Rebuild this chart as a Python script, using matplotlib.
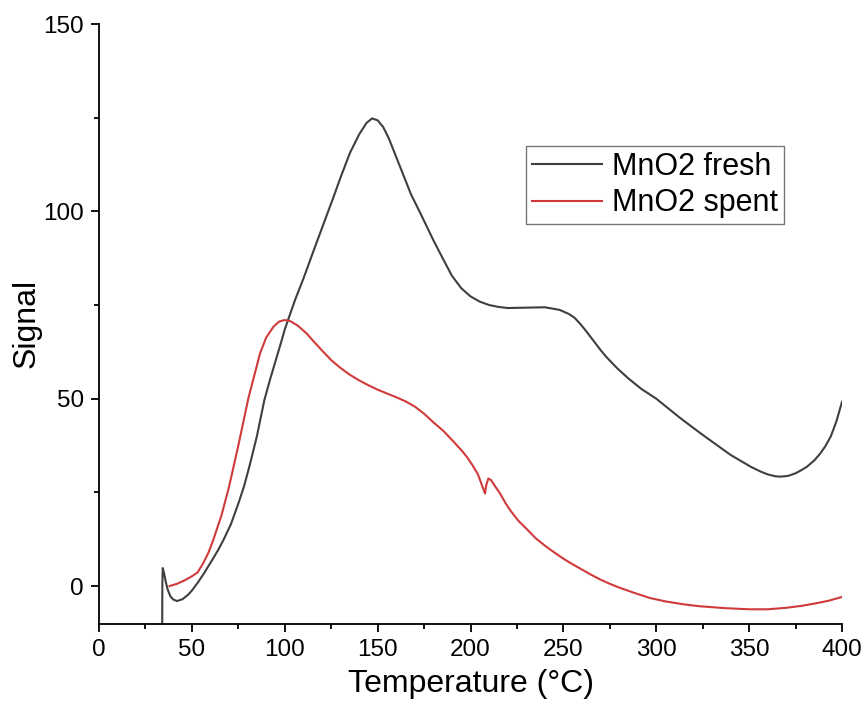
import matplotlib
matplotlib.use("Agg")
import matplotlib.pyplot as plt
from matplotlib.ticker import MultipleLocator

plt.rcParams['font.family'] = ['Liberation Sans', 'DejaVu Sans']

# TPR-style signal traces (temperature in °C, signal in a.u.)
fresh_T = [34.0, 34.1, 34.3, 35.0, 36.0, 37.0, 38.5, 40.0, 42.0, 45.0, 48.0, 50.0,
           53.0, 56.0, 60.0, 64.0, 67.0, 71.0, 75.0, 78.0, 81.0, 85.0, 89.0, 92.0,
           95.0, 98.0, 100.0, 105.5, 110.0, 115.0, 120.0, 126.0, 130.0, 135.0,
           140.0, 144.0, 147.0, 150.0, 153.0, 156.0, 162.0, 168.0, 173.0, 180.0,
           185.0, 190.0, 195.0, 200.0, 205.0, 210.0, 215.0, 220.0, 230.0, 240.0,
           248.0, 253.0, 256.0, 259.0, 262.0, 266.0, 270.0, 273.0, 279.0, 285.0,
           292.0, 300.0, 313.0, 324.0, 340.0, 351.0, 356.0, 360.0, 364.0, 367.0,
           371.0, 375.0, 378.0, 381.0, 385.0, 388.0, 391.0, 394.0, 397.0, 400.0]
fresh_signal = [-12.0, 0.0, 4.8, 3.5, 1.0, -1.0, -2.8, -3.6, -4.0, -3.5, -2.3, -1.2,
                0.8, 3.0, 6.2, 9.5, 12.3, 16.5, 22.0, 26.5, 32.0, 40.0, 49.6, 55.0,
                60.0, 65.0, 68.5, 76.3, 82.0, 88.8, 95.5, 103.5, 109.0, 115.5,
                120.5, 123.6, 124.8, 124.3, 122.5, 119.5, 112.0, 104.5, 99.5, 92.3,
                87.5, 82.8, 79.5, 77.3, 75.9, 75.0, 74.5, 74.2, 74.3, 74.4,
                73.7, 72.6, 71.6, 70.0, 68.2, 65.6, 63.0, 61.2, 58.1, 55.4,
                52.6, 50.0, 44.8, 40.7, 35.0, 31.8, 30.6, 29.8, 29.3, 29.2,
                29.4, 30.1, 30.9, 31.8, 33.5, 35.2, 37.3, 40.0, 44.0, 49.2]

spent_T = [38.0, 42.0, 46.0, 50.0, 53.0, 56.0, 59.0, 61.5, 66.0, 70.0, 75.0, 80.4,
           86.7, 90.0, 93.9, 97.0, 100.0, 103.0, 107.0, 111.8, 115.0, 120.0, 125.0,
           130.0, 135.0, 140.0, 145.0, 150.0, 155.0, 160.0, 165.0, 170.0, 175.0,
           180.0, 185.4, 190.0, 195.0, 198.0, 201.0, 204.0, 207.8, 208.5, 209.6,
           211.0, 213.0, 215.9, 219.0, 222.0, 226.0, 230.3, 235.0, 240.0, 245.0,
           250.0, 255.0, 260.0, 265.0, 270.0, 275.0, 280.0, 288.0, 296.6, 305.0,
           315.0, 323.6, 337.0, 350.0, 360.0, 370.0, 378.0, 386.0, 393.0, 400.0]
spent_signal = [0.0, 0.6, 1.5, 2.6, 3.6, 6.0, 9.0, 12.3, 19.0, 26.5, 37.5, 50.1,
                62.1, 66.3, 69.2, 70.6, 71.0, 70.7, 69.5, 67.4, 65.6, 62.9, 60.3,
                58.2, 56.4, 54.9, 53.6, 52.4, 51.4, 50.4, 49.3, 47.9, 46.0,
                43.7, 41.4, 39.0, 36.3, 34.5, 32.3, 29.8, 24.7, 27.0, 28.7,
                28.3, 26.8, 24.7, 22.0, 19.8, 17.3, 15.2, 12.8, 10.8, 9.0,
                7.3, 5.8, 4.4, 3.0, 1.7, 0.6, -0.4, -1.8, -3.2, -4.1,
                -4.9, -5.4, -5.9, -6.2, -6.2, -5.8, -5.3, -4.6, -3.9, -2.9]

series_labels = ["MnO2 fresh", "MnO2 spent"]

fig = plt.figure(figsize=(8.67, 7.19), dpi=100)
ax = fig.add_axes([0.1142, 0.1328, 0.857, 0.8338])

ax.plot(fresh_T, fresh_signal, color='#3f3f3f', lw=1.5, label=series_labels[0])
ax.plot(spent_T, spent_signal, color='#d03a3a', lw=1.5, label=series_labels[1])

ax.set_xlim(0, 400)
ax.set_ylim(-10, 150)
ax.xaxis.set_major_locator(MultipleLocator(50))
ax.xaxis.set_minor_locator(MultipleLocator(25))
ax.yaxis.set_major_locator(MultipleLocator(50))
ax.yaxis.set_minor_locator(MultipleLocator(25))

for side in ('top', 'right'):
    ax.spines[side].set_visible(False)
for side in ('left', 'bottom'):
    ax.spines[side].set_linewidth(1.3)

ax.tick_params(which='major', direction='out', length=6, width=1.3, labelsize=17.5, pad=5)
ax.tick_params(which='minor', direction='out', length=3.5, width=1.3)

ax.set_xlabel("Temperature (°C)", fontsize=23, labelpad=6)
ax.set_ylabel("Signal", fontsize=23, labelpad=1)

leg = ax.legend(loc='upper left', bbox_to_anchor=(0.5747, 0.7965), borderaxespad=0,
                fontsize=22, frameon=True, fancybox=False, handlelength=2.3,
                handletextpad=0.3, labelspacing=0.2, borderpad=0.2)
leg.get_frame().set_edgecolor('#555555')
leg.get_frame().set_linewidth(1.0)

fig.savefig("out.png", dpi=100)
